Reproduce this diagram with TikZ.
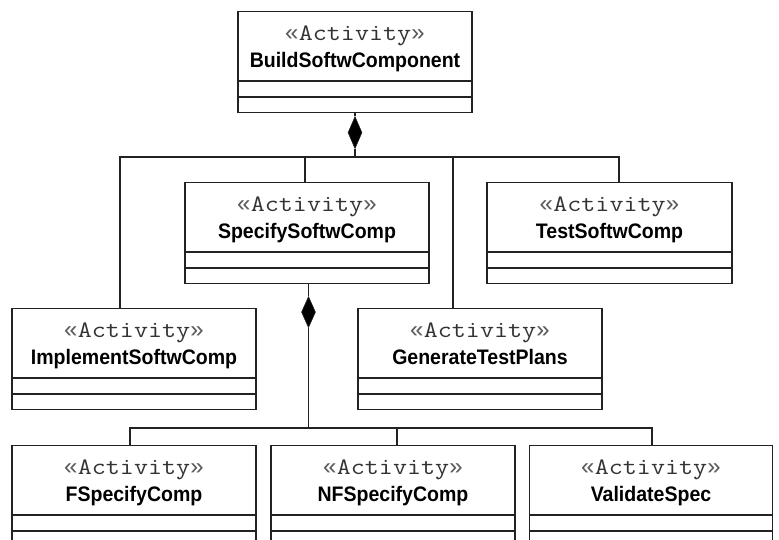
\documentclass[tikz,border=0pt]{standalone}
\usepackage{fontspec}
\usetikzlibrary{calc,shapes.geometric}
\newfontfamily\monof{Latin Modern Mono}[FakeStretch=1.16]
\newfontfamily\guilf{Liberation Mono}
\newfontfamily\namef{Liberation Sans}[FakeStretch=0.93]
\definecolor{ink}{HTML}{222222}
\definecolor{stereoink}{HTML}{333333}
\tikzset{
  hdr/.style={draw=ink, line width=1.1pt, anchor=north, minimum height=69pt, inner sep=0pt},
  comp/.style={draw=ink, line width=1.1pt, anchor=north, minimum height=15pt, inner sep=0pt},
  stereo/.style={anchor=base, inner sep=0pt, text=stereoink, font=\monof\fontsize{23.5}{28}\selectfont},
  nm/.style={anchor=base, inner sep=0pt, text=black, font=\namef\bfseries\fontsize{21}{24}\selectfont},
  conn/.style={draw=ink, line width=1.1pt},
  agg/.style={draw=ink, fill=black, shape=diamond, inner sep=0pt, minimum width=14pt, minimum height=32pt, anchor=north, line width=0.6pt}
}
\newcommand\actbox[5]{%
  \node[hdr, minimum width=#4pt] (#1) at (#2,#3) {};
  \node[stereo] (#1-s) at ($(#1.north)+(0,29.5)$) {{\guilf\color{stereoink!80}«}Activity{\guilf\color{stereoink!80}»}};
  \node[nm] (#1-n) at ($(#1.north)+(0,56.5)$) {#5};
  \node[comp, minimum width=#4pt] (#1-c1) at (#1.south) {};
  \node[comp, minimum width=#4pt] (#1-c2) at (#1-c1.south) {};
}
\begin{document}
\begin{tikzpicture}[x=1pt,y=-1pt]
\useasboundingbox (0,0) rectangle (779,540);
\clip (0,0) rectangle (779,540);
\fill[white] (0,0) rectangle (779,540);
% boxes
\actbox{build}{355}{11}{234}{BuildSoftwComponent}
\actbox{spec}{307}{182}{244}{SpecifySoftwComp}
\actbox{test}{609.5}{182}{245}{TestSoftwComp}
\actbox{impl}{134}{308}{244}{ImplementSoftwComp}
\actbox{gen}{480}{308}{244}{GenerateTestPlans}
\actbox{fspec}{134}{445}{244}{FSpecifyComp}
\actbox{nfspec}{393}{445}{244}{NFSpecifyComp}
\actbox{valid}{651}{445}{243}{ValidateSpec}
% upper aggregation
\node[agg] (d1) at ($(build-c2.south)+(0,3)$) {};
\coordinate (b1) at (0,157);
\coordinate (b1L) at (120,157);
\coordinate (b1R) at (619,157);
\coordinate (x1spec) at (305,0);
\coordinate (x1gen) at (453,0);
\draw[conn] (build-c2.south) -- (d1.north);
\draw[conn] (d1.south) -- (d1.south |- b1);
\draw[conn] (impl.north -| b1L) -- (b1L) -- (b1R) -- (test.north -| b1R);
\draw[conn] (spec.north -| x1spec) -- (x1spec |- b1);
\draw[conn] (gen.north -| x1gen) -- (x1gen |- b1);
% lower aggregation
\node[agg, minimum height=31pt] (d2) at ($(spec-c2.south)+(1.5,12)$) {};
\coordinate (b2) at (0,428);
\coordinate (b2L) at (130,428);
\coordinate (b2R) at (652,428);
\coordinate (x2nf) at (397,0);
\draw[conn] (spec-c2.south -| d2.north) -- (d2.north);
\draw[conn] (d2.south) -- (d2.south |- b2);
\draw[conn] (fspec.north -| b2L) -- (b2L) -- (b2R) -- (valid.north -| b2R);
\draw[conn] (nfspec.north -| x2nf) -- (x2nf |- b2);
\end{tikzpicture}
\end{document}
